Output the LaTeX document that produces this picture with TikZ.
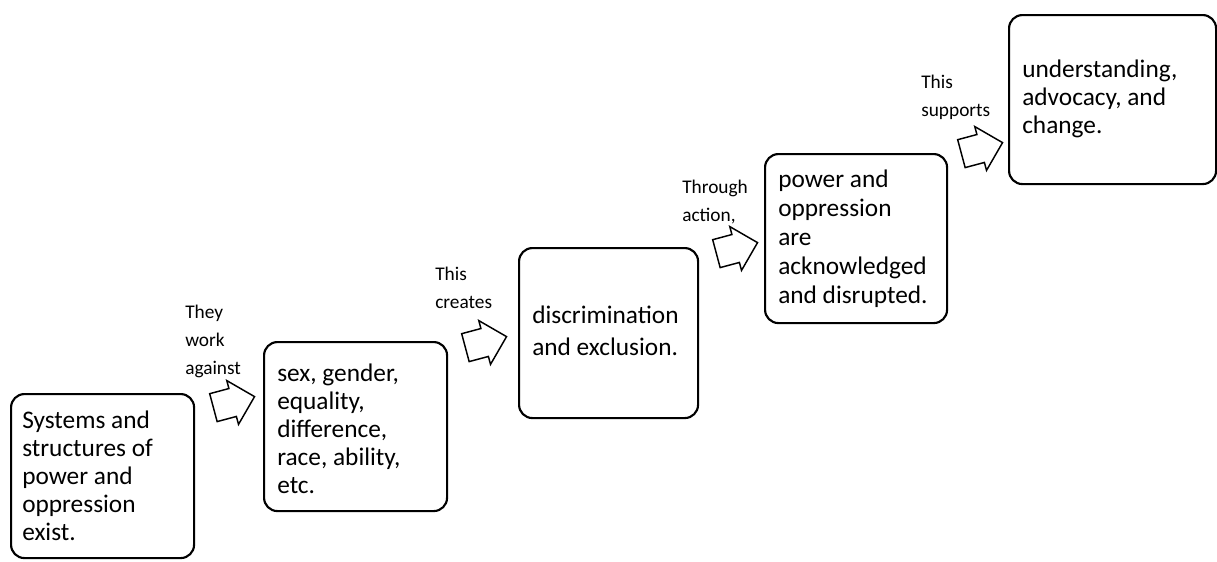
\documentclass[tikz,border=0pt]{standalone}
\usepackage{fontspec}
\setmainfont{Carlito}
\usetikzlibrary{shapes.arrows}
\begin{document}
\begin{tikzpicture}[x=0.75pt,y=-0.75pt,
  stepbox/.style={draw,line width=1.6pt,rounded corners=10pt,anchor=north west,inner sep=0pt},
  boxtext/.style={anchor=north west,align=left,inner sep=0pt,font=\fontsize{19}{21}\selectfont},
  lbl/.style={inner sep=0pt,align=left,anchor=north west,font=\fontsize{14.5}{21}\selectfont},
  arr/.style={single arrow,draw,line width=1.1pt,minimum height=31pt,minimum width=34pt,single arrow head extend=6pt,inner sep=10pt}]
\useasboundingbox (0,0) rectangle (1217,561);
% boxes
\node[stepbox,minimum width=183*0.75pt,minimum height=164*0.75pt] (b1) at (10,393) {};
\node[stepbox,minimum width=183*0.75pt,minimum height=169*0.75pt] (b2) at (263,341) {};
\node[stepbox,minimum width=179*0.75pt,minimum height=170*0.75pt] (b3) at (518,247) {};
\node[stepbox,minimum width=182*0.75pt,minimum height=169*0.75pt] (b4) at (764,153) {};
\node[stepbox,minimum width=207*0.75pt,minimum height=169*0.75pt] (b5) at (1008,14) {};
% box texts
\node[boxtext] (t1) at (22,411) {Systems and\\structures of\\power and\\oppression\\exist.};
\node[boxtext] (t2) at (277,364) {sex, gender,\\equality,\\difference,\\race, ability,\\etc.};
\node[boxtext,font=\fontsize{19}{24}\selectfont] (t3) at (532,306) {discrimination\\and exclusion.};
\node[boxtext,font=\fontsize{19}{21.75}\selectfont] (t4) at (778,170) {power and\\oppression\\are\\acknowledged\\and disrupted.};
\node[boxtext] (t5) at (1022,60) {understanding,\\advocacy, and\\change.};
% arrows
\node[arr,rotate=15] (a1) at (227,404) {};
\node[arr,rotate=15] (a2) at (479,344) {};
\node[arr,rotate=15] (a3) at (730,250) {};
\node[arr,rotate=15] (a4) at (975,150) {};
% labels
\node[lbl] (l1) at (185,305) {They\\work\\against};
\node[lbl] (l2) at (435,267) {This\\creates};
\node[lbl] (l3) at (682,180) {Through\\action,};
\node[lbl] (l4) at (921,75) {This\\supports};
\end{tikzpicture}
\end{document}
